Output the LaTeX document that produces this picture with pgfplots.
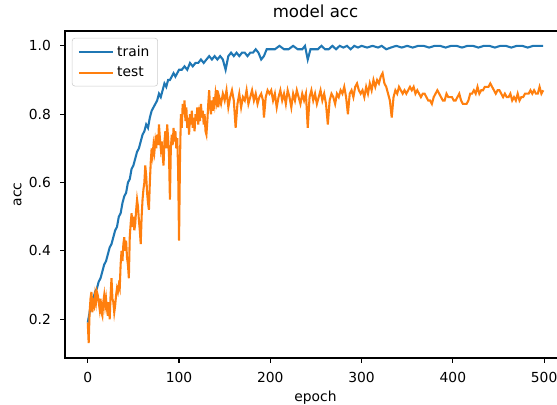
\documentclass[border=0pt]{standalone}
\usepackage{fontspec}
\setmainfont{DejaVu Sans}
\usepackage{pgfplots}
\pgfplotsset{compat=1.18}
\definecolor{mplblue}{RGB}{31,119,180}
\definecolor{mplorange}{RGB}{255,127,14}

\begin{document}
\begin{tikzpicture}
\begin{axis}[
  at={(0,0)}, anchor=south west,
  scale only axis,
  width=360.72bp, height=235.44bp,
  xmin=-24.95, xmax=523.95,
  ymin=0.0865, ymax=1.0435,
  xtick={0,100,...,500},
  ytick={0.2,0.4,0.6,0.8,1.0},
  yticklabel style={/pgf/number format/fixed, /pgf/number format/fixed zerofill, /pgf/number format/precision=1, xshift=-6.5pt},
  /pgf/number format/assume math mode=true,
  tick align=outside,
  tick pos=left,
  major tick length=3.5pt,
  every tick/.style={black, line width=0.8pt},
  axis line style={line width=0.8pt},
  tick label style={font=\fontsize{10}{12}\selectfont, inner sep=0pt},
  xticklabel style={yshift=-6.5pt},
  title={model acc},
  title style={font=\fontsize{12}{14}\selectfont, at={(0.5,1)}, anchor=base, yshift=4pt, inner sep=0pt},
  xlabel={epoch},
  ylabel={acc},
  label style={font=\fontsize{10}{12}\selectfont, inner sep=0pt},
  xlabel style={yshift=-6pt},
  ylabel style={yshift=5pt},
  legend style={at={(0,1)}, anchor=north west, xshift=5pt, yshift=-5pt,
    draw=white!80!black, rounded corners=2pt, fill=white, fill opacity=0.8, text opacity=1,
    font=\fontsize{10}{12}\selectfont, inner xsep=4pt, inner ysep=3.5pt,
    row sep=2pt},
  legend cell align=left,
  legend image code/.code={\draw[#1] (0pt,0pt) -- (25pt,0pt);},
]
\addplot[mplblue, line width=1.5pt] table {
0 0.19
2 0.22
4 0.25
6 0.26
8 0.28
10 0.29
12 0.31
14 0.32
16 0.34
18 0.36
20 0.37
22 0.39
24 0.41
26 0.42
28 0.44
30 0.46
32 0.47
34 0.50
36 0.51
38 0.54
40 0.56
42 0.57
44 0.60
46 0.61
48 0.64
50 0.65
52 0.67
54 0.69
56 0.70
58 0.72
60 0.74
62 0.75
64 0.77
66 0.76
68 0.79
70 0.81
72 0.82
74 0.83
76 0.84
78 0.86
80 0.85
82 0.87
84 0.89
86 0.88
88 0.90
90 0.90
92 0.91
94 0.92
96 0.91
98 0.92
100 0.93
103 0.93
106 0.94
109 0.93
112 0.95
115 0.94
118 0.95
121 0.95
124 0.96
127 0.95
130 0.96
133 0.97
136 0.96
139 0.97
142 0.96
145 0.97
148 0.96
151 0.93
154 0.97
157 0.98
160 0.97
163 0.98
166 0.97
169 0.98
172 0.98
175 0.97
178 0.98
181 0.98
184 0.99
187 0.98
190 0.96
193 0.97
196 0.99
199 0.99
202 0.99
205 0.99
210 1.00
215 0.99
220 0.99
225 1.00
230 0.99
235 0.99
238 1.00
241 0.96
244 0.99
248 0.99
252 0.99
256 1.00
260 0.99
264 0.99
268 1.00
272 0.99
276 1.00
280 0.995
284 1.00
288 0.99
292 1.00
296 0.995
300 1.00
306 0.995
312 1.00
318 0.995
322 1.00
327 0.99
332 0.995
338 1.00
344 0.995
350 1.00
356 0.995
362 1.00
368 1.00
374 0.995
380 1.00
386 1.00
392 0.995
398 1.00
404 1.00
410 0.995
416 1.00
422 1.00
428 0.995
434 1.00
440 1.00
446 0.995
452 1.00
458 1.00
464 0.995
470 1.00
476 1.00
482 0.995
488 1.00
494 1.00
499 1.00
};
\addlegendentry{train}
\addplot[mplorange, line width=1.5pt] table {
0 0.19
1 0.13
2 0.22
3 0.26
4 0.28
5 0.22
6 0.25
7 0.24
8 0.27
9 0.25
10 0.28
11 0.27
12 0.25
13 0.23
14 0.26
15 0.22
16 0.21
17 0.25
18 0.27
19 0.24
20 0.26
21 0.23
22 0.21
23 0.25
24 0.20
25 0.27
26 0.32
27 0.26
28 0.25
29 0.22
30 0.24
31 0.27
32 0.29
33 0.28
34 0.30
35 0.29
36 0.36
37 0.40
38 0.37
39 0.42
40 0.44
41 0.40
42 0.43
43 0.38
44 0.36
45 0.32
46 0.44
47 0.48
48 0.51
49 0.47
50 0.50
51 0.46
52 0.48
53 0.52
54 0.55
55 0.53
56 0.49
57 0.46
58 0.42
59 0.50
60 0.55
61 0.58
62 0.60
63 0.65
64 0.62
65 0.57
66 0.54
67 0.52
68 0.60
69 0.66
70 0.70
71 0.68
72 0.71
73 0.69
74 0.72
75 0.70
76 0.74
77 0.71
78 0.77
79 0.73
80 0.70
81 0.72
82 0.68
83 0.65
84 0.72
85 0.75
86 0.70
87 0.77
88 0.73
89 0.68
90 0.55
91 0.70
92 0.74
93 0.71
94 0.76
95 0.72
96 0.75
97 0.70
98 0.73
99 0.64
100 0.43
101 0.66
102 0.80
103 0.76
104 0.83
105 0.80
106 0.84
107 0.78
108 0.82
109 0.76
110 0.79
111 0.74
112 0.80
113 0.77
114 0.81
115 0.76
116 0.79
117 0.75
118 0.80
119 0.78
120 0.82
121 0.77
122 0.80
123 0.78
124 0.83
125 0.79
126 0.81
127 0.77
128 0.80
129 0.75
130 0.74
131 0.78
132 0.83
133 0.87
134 0.82
135 0.80
136 0.84
137 0.81
138 0.85
139 0.83
140 0.86
141 0.84
142 0.87
143 0.82
144 0.85
146 0.83
148 0.86
150 0.84
152 0.87
154 0.82
156 0.85
158 0.87
160 0.84
162 0.76
164 0.83
166 0.86
168 0.82
170 0.85
172 0.84
174 0.87
176 0.83
178 0.85
180 0.87
182 0.84
184 0.86
186 0.83
188 0.85
190 0.86
192 0.84
193 0.79
195 0.85
197 0.87
199 0.86
201 0.87
203 0.84
205 0.86
207 0.82
209 0.85
211 0.87
213 0.84
215 0.86
217 0.83
219 0.87
221 0.85
223 0.82
225 0.86
227 0.84
229 0.87
231 0.85
233 0.83
235 0.86
237 0.84
239 0.86
241 0.76
243 0.85
245 0.87
247 0.84
249 0.86
251 0.83
253 0.85
255 0.87
257 0.84
259 0.86
261 0.83
263 0.77
265 0.84
267 0.86
269 0.85
271 0.83
273 0.86
275 0.85
277 0.87
279 0.86
281 0.88
283 0.85
285 0.80
287 0.86
289 0.87
291 0.85
293 0.88
295 0.89
297 0.87
299 0.86
301 0.87
303 0.85
305 0.88
307 0.86
309 0.89
311 0.87
313 0.90
315 0.88
317 0.90
319 0.89
321 0.91
323 0.92
325 0.89
327 0.88
329 0.86
331 0.84
333 0.79
335 0.85
337 0.87
339 0.86
341 0.88
343 0.87
345 0.86
347 0.87
349 0.86
351 0.87
353 0.88
355 0.87
357 0.88
359 0.86
361 0.87
363 0.86
365 0.85
367 0.86
369 0.86
371 0.85
373 0.84
375 0.84
377 0.83
379 0.85
381 0.86
383 0.87
385 0.86
387 0.85
389 0.84
391 0.84
393 0.86
395 0.85
397 0.85
399 0.85
401 0.84
403 0.84
405 0.85
407 0.86
409 0.84
411 0.83
413 0.83
415 0.83
417 0.84
419 0.86
421 0.86
423 0.87
425 0.86
427 0.88
429 0.86
431 0.87
433 0.87
435 0.88
437 0.88
439 0.88
441 0.89
443 0.88
445 0.87
447 0.86
449 0.87
451 0.87
453 0.86
455 0.85
457 0.86
459 0.85
461 0.85
463 0.86
465 0.84
467 0.85
469 0.84
471 0.86
473 0.84
475 0.85
477 0.85
479 0.86
481 0.86
483 0.86
485 0.87
487 0.86
489 0.87
491 0.86
493 0.86
495 0.88
497 0.86
499 0.87
};
\addlegendentry{test}
\end{axis}
\pgfresetboundingbox
\path[use as bounding box] (-46.8bp,-33.84bp) rectangle (354.24bp,257.76bp);
\end{tikzpicture}
\end{document}
